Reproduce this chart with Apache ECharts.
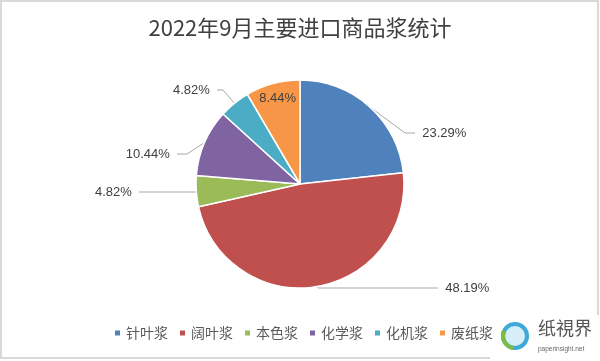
<!DOCTYPE html>
<html><head><meta charset="utf-8">
<script src="https://cdn.jsdelivr.net/npm/echarts@6/dist/echarts.min.js"></script>
<style>html,body{margin:0;padding:0;background:#fff}#c{width:600px;height:361px}</style>
</head><body><div id="c"></div>
<script>
const categories = ['针叶浆','阔叶浆','本色浆','化学浆','化机浆','废纸浆'];
const values = [23.29, 48.19, 4.82, 10.44, 4.82, 8.44];
const colors = ['#4F81BD','#C0504D','#9BBB59','#8064A2','#4BACC6','#F79646'];
const titleText = '2022年9月主要进口商品浆统计';

// leader line styling per slice (lengths only)
const lineLen = [[20,10],[2,120],[1,58],[15,10],[20,6],[0,0]];
// label anchor positions (x, y, align) for the outside labels
const labelPos = [[415,133,'left'],[438,288,'left'],[139,192,'right'],[177,154,'right'],[217,90,'right'],null];

const chart = echarts.init(document.getElementById('c'));
const data = categories.map((n,i)=>{
  const d = {name:n, value:values[i], itemStyle:{color:colors[i]},
    labelLine:{length:lineLen[i][0],length2:lineLen[i][1]}};
  if (n==='废纸浆') d.label = {position:'inside', offset:[-8,-33]};
  return d;
});
function fmt(p){
  const t = p.value.toFixed(2)+'%';
  const lp = labelPos[p.dataIndex];
  if (!lp) return t;
  return lp[2]==='left' ? '  '+t : t+'  ';
}
chart.setOption({
  animation:false,
  title:{text:titleText,left:'center',top:12,textStyle:{fontFamily:'Noto Sans CJK SC',fontSize:22,fontWeight:'normal',color:'#404040'}},
  legend:{bottom:16,left:108,itemWidth:7,itemHeight:7,itemGap:10,icon:'rect',
    textStyle:{fontFamily:'Noto Sans CJK SC',fontSize:14,color:'#595959'},data:categories},
  graphic:[
    {type:'rect',shape:{x:1,y:1,width:597,height:357},style:{fill:'none',stroke:'#d9d9d9',lineWidth:2},z:-1},
    {type:'rect',shape:{x:490,y:315,width:110,height:46},style:{fill:'#fff'},z:0},
    {type:'circle',shape:{cx:515,cy:336,r:12},style:{fill:'#d6eef8',stroke:'#3FA9D8',lineWidth:4}},
    {type:'arc',shape:{cx:515,cy:336,r:12,startAngle:Math.PI*0.55,endAngle:Math.PI*1.15},style:{fill:'none',stroke:'#7DBB42',lineWidth:4}},
    {type:'text',left:538,top:319,style:{text:'纸視界',font:'18px "Noto Sans CJK SC"',fill:'#555'}},
    {type:'text',left:538,top:346,style:{text:'paperinsight.net',font:'6.5px "Liberation Sans"',fill:'#666'}}
  ],
  series:[{type:'pie',center:[300,184],radius:[0,104],startAngle:90,clockwise:true,
    data:data,
    itemStyle:{borderColor:'#fff',borderWidth:1.5},
    label:{formatter:fmt,fontFamily:'Liberation Sans',fontSize:13,color:'#404040'},
    labelLine:{lineStyle:{color:'#A6A6A6',width:1}},
    labelLayout:function(p){
      const lp = labelPos[p.dataIndex];
      if (lp) return {x:lp[0],y:lp[1],align:lp[2],verticalAlign:'middle'};
      return {};
    }
  }]
});
</script></body></html>
